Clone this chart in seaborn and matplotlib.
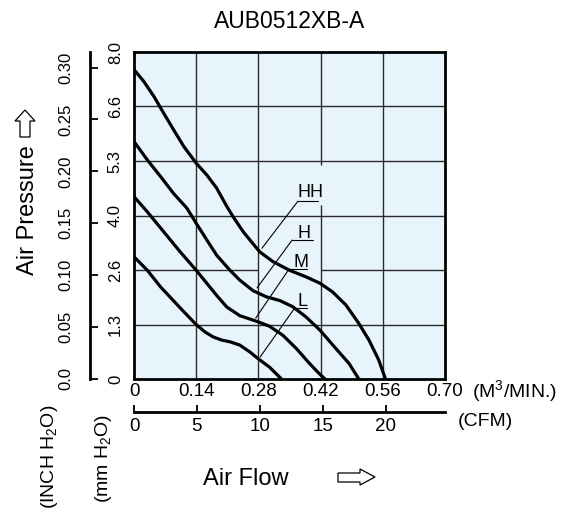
import pandas as pd
import seaborn as sns
import matplotlib.pyplot as plt
from matplotlib.patches import Polygon

sns.set_theme(style="ticks")
plt.rcParams["font.family"] = ["Liberation Sans", "DejaVu Sans"]
plt.rcParams["mathtext.fontset"] = "custom"
plt.rcParams["mathtext.rm"] = "Liberation Sans"
plt.rcParams["mathtext.it"] = "Liberation Sans:italic"
plt.rcParams["text.color"] = "black"
plt.rcParams["xtick.color"] = "black"
plt.rcParams["ytick.color"] = "black"

# P-Q curves: flow in m3/min, static pressure in mm H2O
hh_flow = [0.0, 0.022, 0.045, 0.067, 0.089, 0.112, 0.140, 0.164, 0.186, 0.209,
           0.223, 0.246, 0.261, 0.283, 0.313, 0.350, 0.387, 0.419, 0.447, 0.477,
           0.506, 0.529, 0.551, 0.566]
hh_pres = [7.57, 7.28, 6.91, 6.50, 6.10, 5.69, 5.28, 4.99, 4.67, 4.22,
           3.97, 3.60, 3.40, 3.11, 2.87, 2.66, 2.50, 2.34, 2.13, 1.81,
           1.36, 0.95, 0.46, 0.0]

h_flow = [0.0, 0.030, 0.060, 0.089, 0.119, 0.140, 0.164, 0.186, 0.216, 0.238,
          0.268, 0.298, 0.328, 0.357, 0.387, 0.419, 0.454, 0.484, 0.506]
h_pres = [5.81, 5.36, 4.95, 4.54, 4.18, 3.81, 3.40, 3.03, 2.66, 2.42,
          2.16, 2.01, 1.92, 1.77, 1.52, 1.19, 0.75, 0.38, 0.0]

m_flow = [0.0, 0.030, 0.067, 0.104, 0.140, 0.164, 0.188, 0.209, 0.238, 0.279,
          0.305, 0.335, 0.365, 0.395, 0.417, 0.430]
m_pres = [4.46, 4.09, 3.60, 3.11, 2.66, 2.34, 2.02, 1.76, 1.55, 1.40,
          1.29, 1.07, 0.75, 0.38, 0.13, 0.0]

l_flow = [0.0, 0.030, 0.060, 0.085, 0.110, 0.140, 0.160, 0.178, 0.198, 0.216,
          0.238, 0.261, 0.279, 0.305, 0.332]
l_pres = [2.99, 2.66, 2.25, 1.96, 1.67, 1.33, 1.15, 1.03, 0.95, 0.91,
          0.83, 0.66, 0.50, 0.29, 0.0]

flow_ticks = [0, 0.14, 0.28, 0.42, 0.56, 0.70]
flow_labels = ["0", "0.14", "0.28", "0.42", "0.56", "0.70"]
cfm_ticks = [0, 5, 10, 15, 20]
cfm_labels = ["0", "5", "10", "15", "20"]
mm_ticks = [0, 1.333, 2.667, 4.0, 5.333, 6.667, 8.0]
mm_labels = ["0", "1.3", "2.6", "4.0", "5.3", "6.6", "8.0"]
inch_ticks = [0, 0.05, 0.10, 0.15, 0.20, 0.25, 0.30]
inch_labels = ["0.0", "0.05", "0.10", "0.15", "0.20", "0.25", "0.30"]

curves = {"HH": (hh_flow, hh_pres), "H": (h_flow, h_pres),
          "M": (m_flow, m_pres), "L": (l_flow, l_pres)}
df = pd.concat(
    [pd.DataFrame({"flow": f, "pressure": p, "speed": k}) for k, (f, p) in curves.items()],
    ignore_index=True,
)

W, H = 563, 519


def fx(x):
    return x / W


def fy(y):
    return 1 - y / H


fig = plt.figure(figsize=(W / 100, H / 100), dpi=100)
ax = fig.add_axes([fx(134), fy(379), 311 / W, 327 / H])
ax.set_facecolor("#e8f4fb")
ax.set_xlim(0, 0.70)
ax.set_ylim(0, 8.0)

# grid (with the small gaps left around the labels)
gc, gw = "#2a2a2a", 1.0
ax.vlines([0.14, 0.28, 0.56], 0, 8, color=gc, lw=gw, zorder=1)
ax.vlines([0.42, 0.42], [0, 5.24], [4.25, 8], color=gc, lw=gw, zorder=1)
ax.hlines([1.333, 4.0, 5.333, 6.667], 0, 0.70, color=gc, lw=gw, zorder=1)
ax.hlines([2.667, 2.667], [0, 0.42], [0.28, 0.70], color=gc, lw=gw, zorder=1)

sns.lineplot(data=df, x="flow", y="pressure", hue="speed",
             palette={k: "black" for k in curves}, estimator=None, sort=False,
             legend=False, lw=2.3, ax=ax, zorder=3)
for line in ax.lines:
    line.set_solid_joinstyle("round")
    line.set_solid_capstyle("butt")

# curve labels with leader lines
labels = [("HH", 0.369, 4.45, 0.369, 0.414, 4.35, 0.288, 3.20),
          ("H", 0.367, 3.45, 0.356, 0.403, 3.40, 0.277, 2.23),
          ("M", 0.358, 2.74, 0.349, 0.389, 2.69, 0.274, 1.49),
          ("L", 0.369, 1.79, 0.362, 0.389, 1.74, 0.284, 0.54)]
for name, tx, ty, u0, u1, uy, lx, ly in labels:
    ax.text(tx, ty, name, ha="left", va="baseline", fontsize=13, zorder=4)
    ax.plot([u0, u1], [uy, uy], color="black", lw=0.8, zorder=4)
    ax.plot([lx, u0], [ly, uy], color="black", lw=0.8, zorder=4)

for s in ax.spines.values():
    s.set_linewidth(2.0)
    s.set_color("black")
    s.set_zorder(5)

ax.set_xlabel("")
ax.set_ylabel("")
ax.set_xticks(flow_ticks, flow_labels)
ax.tick_params(axis="x", length=0, pad=3, labelsize=13.5, colors="black")
ax.set_yticks(mm_ticks, mm_labels, rotation=90, va="center")
ax.tick_params(axis="y", length=0, pad=8, labelsize=12, colors="black")

# CFM scale below
cfm = ax.secondary_xaxis(-0.101, functions=(lambda q: q / 0.0283168, lambda c: c * 0.0283168))
cfm.set_ticks(cfm_ticks, cfm_labels)
cfm.tick_params(direction="in", length=5, width=1.3, pad=4, labelsize=13.5, colors="black")
cfm.spines["bottom"].set_linewidth(2.0)
cfm.spines["bottom"].set_color("black")

# inch H2O scale on the left
inch = ax.secondary_yaxis(-0.1415, functions=(lambda mm: mm / 25.4, lambda i: i * 25.4))
inch.set_ticks(inch_ticks, inch_labels, rotation=90, va="center")
inch.tick_params(direction="in", length=6, width=1.3, pad=12, labelsize=12, colors="black")
inch.spines["left"].set_linewidth(2.0)
inch.spines["left"].set_color("black")

fig.text(fx(290), fy(22), "AUB0512XB-A", ha="center", va="center", fontsize=16.5)
fig.text(fx(472), fy(397), r"(M$^{\mathrm{3}}$/MIN.)", ha="left", va="baseline", fontsize=14)
fig.text(fx(458), fy(426), "(CFM)", ha="left", va="baseline", fontsize=14)
fig.text(fx(203), fy(485), "Air Flow", ha="left", va="baseline", fontsize=17)
fig.text(fx(28), fy(210), "Air Pressure", ha="center", va="center", rotation=90, fontsize=17)
fig.text(fx(50), fy(457), r"(INCH H$_{\mathrm{2}}$O)", ha="center", va="center", rotation=90, fontsize=14)
fig.text(fx(103), fy(458), r"(mm H$_{\mathrm{2}}$O)", ha="center", va="center", rotation=90, fontsize=14)

# hollow arrows
up = [(20, 137), (20, 121), (15, 121), (25, 110), (35, 121), (30, 121), (30, 137)]
right = [(338, 473), (360, 473), (360, 469), (375, 477), (360, 485), (360, 482), (338, 482)]
for pts in (up, right):
    fig.add_artist(Polygon([(fx(x), fy(y)) for x, y in pts], closed=True,
                           transform=fig.transFigure, facecolor="white",
                           edgecolor="black", lw=0.9))

fig.savefig("out.png", dpi=100)
